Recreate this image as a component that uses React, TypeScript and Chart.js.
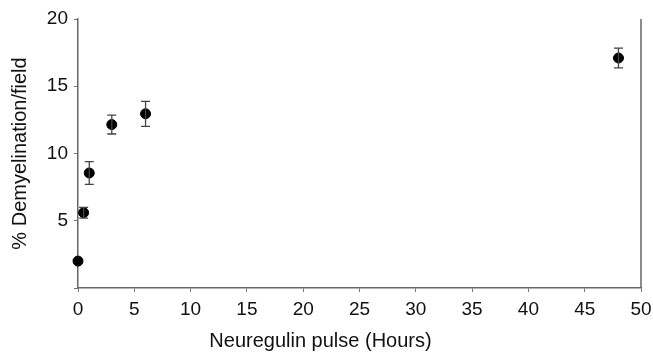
import React, { useEffect, useRef } from "react";
import { Chart, registerables } from "chart.js";

Chart.register(...registerables);

const hours = [0, 0.5, 1, 3, 6, 48];
const demyelination = [2.0, 5.6, 8.55, 12.15, 12.95, 17.1];
const errors = [0.1, 0.4, 0.85, 0.7, 0.93, 0.74];
const xTicks = [0, 5, 10, 15, 20, 25, 30, 35, 40, 45, 50];
const yTicks = [0, 5, 10, 15, 20];

const FONT = "'Liberation Sans', Arial, Helvetica, sans-serif";

const errorBarPlugin = {
  id: "errorBars",
  afterDatasetsDraw(chart: any) {
    const { ctx, scales, chartArea } = chart;
    const xs = scales.x;
    const ys = scales.y;
    ctx.save();
    ctx.strokeStyle = "#444";
    ctx.lineWidth = 1.3;
    hours.forEach((h, i) => {
      const x = xs.getPixelForValue(h);
      const yT = ys.getPixelForValue(demyelination[i] + errors[i]);
      const yB = ys.getPixelForValue(demyelination[i] - errors[i]);
      if (yB - yT < 5) return;
      ctx.beginPath();
      ctx.moveTo(x, yT);
      ctx.lineTo(x, yB);
      ctx.moveTo(x - 4.5, yT);
      ctx.lineTo(x + 4.5, yT);
      ctx.moveTo(x - 4.5, yB);
      ctx.lineTo(x + 4.5, yB);
      ctx.stroke();
    });
    // right frame line
    ctx.strokeStyle = "#666";
    ctx.lineWidth = 1.5;
    ctx.beginPath();
    ctx.moveTo(chartArea.right, chartArea.top);
    ctx.lineTo(chartArea.right, chartArea.bottom);
    ctx.stroke();
    ctx.restore();
  },
};

export default function App() {
  const ref = useRef<HTMLCanvasElement>(null);
  useEffect(() => {
    if (!ref.current) return;
    const chart = new Chart(ref.current, {
      type: "scatter",
      data: {
        datasets: [
          {
            data: hours.map((h, i) => ({ x: h, y: demyelination[i] })),
            backgroundColor: "#000",
            borderColor: "#000",
            pointRadius: 5,
            pointHoverRadius: 5,
            clip: false,
          } as any,
        ],
      },
      options: {
        animation: false,
        responsive: false,
        layout: { padding: { top: 19, right: 12, left: 0, bottom: 0 } },
        plugins: {
          legend: { display: false },
          tooltip: { enabled: false },
          title: {
            display: true,
            position: "bottom",
            text: "Neuregulin pulse (Hours)",
            color: "#111",
            font: { family: FONT, size: 20, weight: "normal" },
            padding: { top: 0, bottom: 1 },
          },
        },
        scales: {
          x: {
            type: "linear",
            min: 0,
            max: 50,
            afterBuildTicks: (s: any) => {
              s.ticks = xTicks.map((v) => ({ value: v }));
            },
            afterFit: (s: any) => {
              s.height = 354 - 1 - 20 * 1.2 - 288;
              s.paddingRight = 0;
              s.paddingLeft = 0;
            },
            grid: { drawOnChartArea: false, drawTicks: true, tickLength: 4, color: "#777" },
            border: { color: "#666", width: 1.5 },
            ticks: {
              color: "#111",
              padding: 6,
              maxRotation: 0,
              font: { family: FONT, size: 19 },
            },
          },
          y: {
            min: 0,
            max: 20,
            afterBuildTicks: (s: any) => {
              s.ticks = yTicks.map((v) => ({ value: v }));
            },
            afterFit: (s: any) => {
              s.width = 78;
              s.paddingTop = 0;
              s.paddingBottom = 0;
            },
            grid: { drawOnChartArea: false, drawTicks: true, tickLength: 4, color: "#777" },
            border: { color: "#666", width: 1.5 },
            ticks: {
              color: "#111",
              padding: 6,
              font: { family: FONT, size: 19 },
              callback: (v: any) => (v === 0 ? "" : String(v)),
            },
            title: {
              display: true,
              text: "% Demyelination/field",
              color: "#111",
              font: { family: FONT, size: 20 },
              padding: { top: 8, bottom: 0 },
            },
          },
        },
      },
      plugins: [errorBarPlugin],
    });
    return () => chart.destroy();
  }, []);
  return (
    <div style={{ position: "fixed", left: 0, top: 0, width: 653, height: 354, background: "#fff" }}>
      <canvas ref={ref} width={653} height={354} style={{ width: 653, height: 354 }} />
    </div>
  );
}
